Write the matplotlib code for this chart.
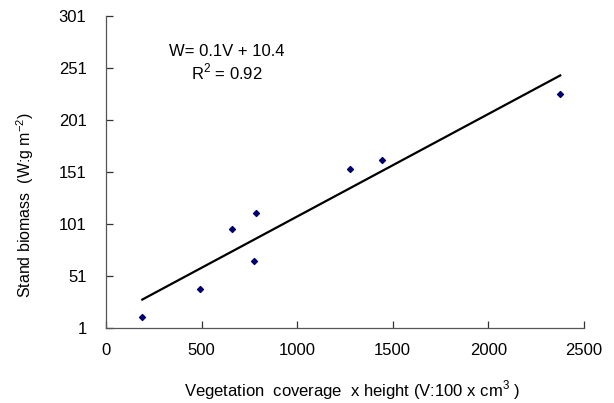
import matplotlib
matplotlib.use("Agg")
import matplotlib.pyplot as plt
import numpy as np

# values
coverage_height = [190, 493, 660, 783, 774, 1278, 1442, 2376]
stand_biomass = [11.6, 38.5, 96.5, 111.9, 65.4, 153.9, 162.2, 225.7]

x_ticks = [0, 500, 1000, 1500, 2000, 2500]
y_ticks = [1, 51, 101, 151, 201, 251, 301]

plt.rcParams["font.family"] = ["Liberation Sans", "DejaVu Sans"]
plt.rcParams["mathtext.fontset"] = "custom"
plt.rcParams["mathtext.rm"] = "Liberation Sans"

fig = plt.figure(figsize=(6.14, 4.03), dpi=100)
ax = fig.add_axes([0.1726, 0.186, 0.951 - 0.1726, 0.960 - 0.186])

x = np.array(coverage_height)
y = np.array(stand_biomass)
slope, intercept = np.polyfit(x, y, 1)
xf = np.array([x.min(), x.max()])
ax.plot(xf, slope * xf + intercept, color="black", linewidth=1.6, zorder=2)
ax.scatter(x, y, marker="D", s=9, color="#000070", zorder=3)

ax.set_xlim(0, 2500)
ax.set_ylim(1, 301)
ax.set_xticks(x_ticks)
ax.set_yticks(y_ticks)
ax.tick_params(direction="in", length=5, width=0.9, colors="#333333",
               labelcolor="black", labelsize=12)
ax.tick_params(axis="x", pad=11)
ax.tick_params(axis="y", pad=14)

for side in ("top", "right"):
    ax.spines[side].set_visible(False)
for side in ("left", "bottom"):
    ax.spines[side].set_color("#555555")
    ax.spines[side].set_linewidth(0.9)

ax.text(0.252, 0.885, "W= 0.1V + 10.4", transform=ax.transAxes,
        ha="center", va="center", fontsize=12)
ax.text(0.252, 0.822, "R$^\\mathrm{2}$ = 0.92", transform=ax.transAxes,
        ha="center", va="center", fontsize=12)

fig.text(25 / 614, 1 - 205 / 403, "Stand biomass  (W:g m$^\\mathrm{-2}$)",
         rotation=90, ha="center", va="center", fontsize=11.5)
fig.text(352 / 614, 13 / 403, "Vegetation  coverage  x height (V:100 x cm$^\\mathrm{3}$ )",
         ha="center", va="center", fontsize=12)

fig.savefig("out.png", dpi=100)
